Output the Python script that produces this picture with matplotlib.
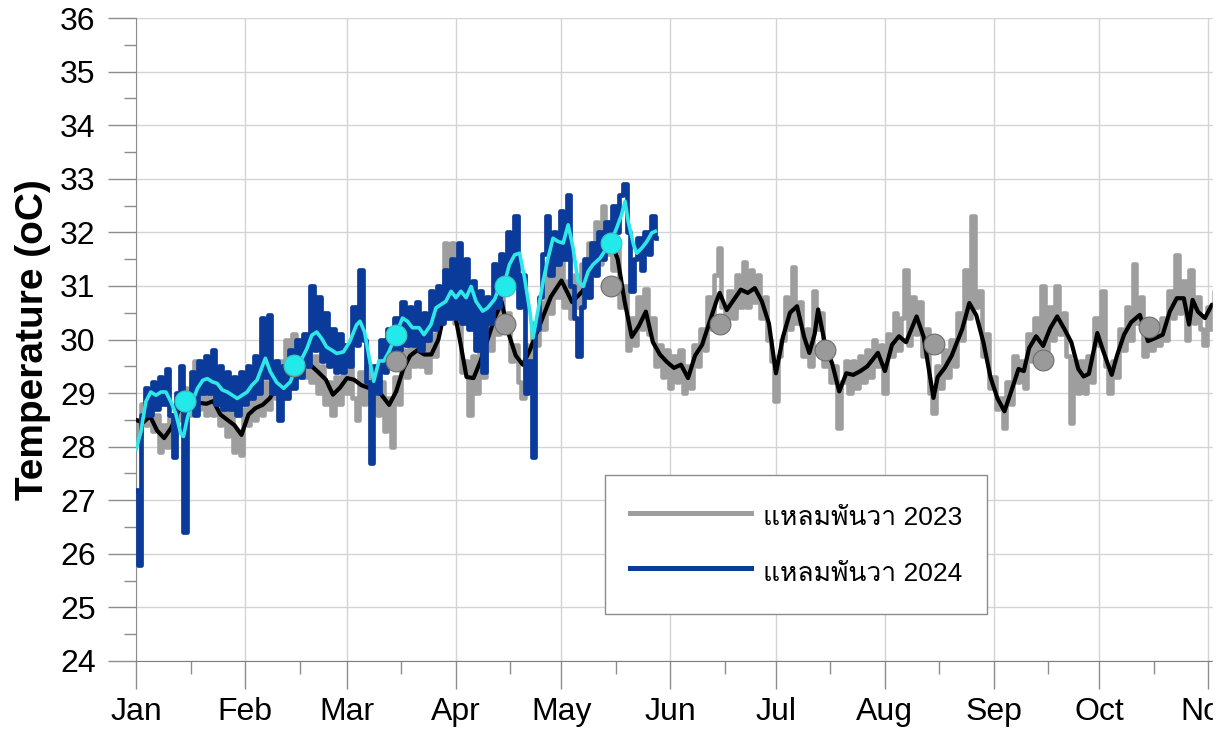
import numpy as np
import matplotlib
matplotlib.use('Agg')
import matplotlib.pyplot as plt
from matplotlib import font_manager
from matplotlib.ft2font import FT2Font
from matplotlib.patches import Rectangle

# day of year (leap-year calendar, 0 = Jan 1)
month_start = [0, 31, 60, 91, 121, 152, 182, 213, 244, 274, 305, 335]
month_names = ['Jan', 'Feb', 'Mar', 'Apr', 'May', 'Jun', 'Jul', 'Aug', 'Sep', 'Oct', 'Nov']

# 2023 raw (daily), d = 0..309
raw23 = [
    28.5, 28.2, 28.8, 28.4, 28.9, 28.3, 28.6, 27.9, 28.4, 28.0,
    28.6, 28.2, 28.9, 28.5, 29.1, 28.6, 29.2, 29.6, 28.7, 29.1,
    28.6, 29.1, 28.6, 29.0, 28.4, 28.8, 28.2, 28.7, 27.9, 28.3,
    27.85, 28.7, 28.4, 28.9, 28.5, 29.0, 28.6, 29.2, 28.7, 29.3,
    28.9, 29.6, 29.2, 30.0, 29.3, 30.1, 29.4, 29.9, 29.3, 29.8,
    29.2, 29.7, 29.0, 29.5, 28.8, 29.2, 28.6, 29.3, 28.8, 29.4,
    29.0, 29.6, 28.9, 28.5, 29.4, 28.8, 29.5, 28.9, 29.4, 28.6,
    29.2, 28.3, 28.9, 28.0, 29.3, 28.8, 29.8, 29.3, 30.0, 29.5,
    30.1, 29.5, 30.0, 29.4, 30.1, 29.7, 30.6, 30.4, 31.8, 31.0,
    31.8, 30.3, 30.5, 29.4, 29.6, 28.6, 29.7, 29.0, 30.0, 29.3,
    30.3, 29.8, 30.7, 30.1, 30.9, 30.3, 30.5, 29.6, 29.9, 29.2,
    28.9, 29.9, 29.4, 30.3, 29.9, 30.7, 30.2, 31.2, 30.5, 31.4,
    30.8, 31.5, 30.6, 31.1, 30.4, 31.2, 30.6, 31.4, 30.8, 31.8,
    31.2, 32.2, 31.4, 32.5, 31.6, 32.2, 31.3, 31.8, 30.6, 31.0,
    29.8, 30.4, 29.9, 30.8, 30.2, 30.95, 30.1, 30.4, 29.5, 29.9,
    29.3, 29.8, 29.1, 29.7, 29.2, 29.8, 29.0, 29.5, 29.1, 29.9,
    29.5, 30.2, 29.8, 30.8, 30.2, 31.2, 31.7, 30.6, 30.3, 30.9,
    30.4, 31.2, 30.6, 31.45, 30.6, 31.3, 30.7, 31.2, 30.4, 30.8,
    30.0, 29.6, 28.85, 29.7, 30.0, 30.8, 30.2, 31.36, 30.3, 30.7,
    29.7, 30.2, 29.5, 30.9, 30.2, 30.5, 29.5, 29.9, 29.2, 29.5,
    28.35, 29.2, 29.6, 29.0, 29.6, 29.1, 29.7, 29.2, 29.8, 29.3,
    30.0, 29.5, 29.9, 29.0, 30.1, 29.7, 30.5, 29.8, 30.4, 31.3,
    29.9, 30.8, 30.1, 30.7, 29.7, 30.2, 29.0, 28.63, 29.5, 29.1,
    29.8, 29.3, 30.0, 29.5, 30.5, 30.0, 31.3, 30.4, 32.3, 30.6,
    30.9, 29.7, 30.1, 29.1, 29.3, 28.7, 28.9, 28.35, 29.2, 28.8,
    29.7, 29.2, 29.6, 29.1, 30.1, 29.6, 30.4, 29.6, 31.0, 29.7,
    30.6, 30.0, 31.0, 30.1, 30.5, 29.7, 28.44, 29.6, 29.0, 29.6,
    29.0, 29.7, 29.2, 30.4, 29.9, 30.9, 29.5, 29.0, 29.6, 29.3,
    30.2, 29.8, 30.6, 30.0, 31.4, 30.3, 30.8, 29.7, 30.2, 29.8,
    30.3, 29.9, 30.4, 30.0, 30.9, 30.4, 31.58, 30.5, 31.1, 30.0,
    31.3, 30.3, 30.8, 30.2, 29.9, 30.6, 30.2, 30.9, 30.4, 30.7,
]

# 2023 smoothed
smooth23_day = [0, 2, 4, 6, 8, 10, 12, 14, 16, 18, 20, 22, 24, 26, 28, 30, 32, 34, 36, 38,
                40, 42, 44, 46, 48, 50, 52, 54, 56, 58, 60, 62, 64, 66, 68, 70, 72, 74, 76, 78,
                80, 82, 84, 86, 88, 89, 90, 92, 94, 96, 98, 100, 102, 104, 106, 108, 110, 112, 115, 118,
                121, 124, 127, 130, 133, 135, 137, 139, 141, 143, 145, 147, 149, 151, 153, 155, 157, 159, 161, 163,
                165, 166, 168, 170, 172, 174, 176, 178, 180, 182, 184, 186, 188, 190, 191.5, 193, 194, 196, 198, 200,
                202, 204, 206, 208, 211, 213, 215, 217, 219, 222, 224, 226.8, 228, 230, 232, 235, 237, 239, 241, 243,
                245, 247, 249, 251, 252.5, 254, 256, 258, 260, 262, 264, 266, 268, 269.5, 271, 273.4, 275, 277.5, 279, 281,
                283, 285.5, 287.8, 290, 292, 294, 296, 298, 299.5, 300.5, 302, 304, 306, 308, 310]
smooth23_val = [28.5, 28.45, 28.57, 28.3, 28.16, 28.35, 28.66, 28.8, 28.85, 28.82, 28.8, 28.85, 28.6, 28.5, 28.4, 28.22, 28.6, 28.72, 28.78, 28.9,
                29.1, 29.5, 29.55, 29.55, 29.6, 29.5, 29.38, 29.25, 28.97, 29.1, 29.28, 29.25, 29.15, 29.1, 29.15, 28.95, 28.78, 29.03, 29.45, 29.7,
                29.8, 29.72, 29.72, 30.0, 30.6, 31.1, 30.7, 30.03, 29.3, 29.28, 29.6, 30.0, 30.4, 30.7, 30.1, 29.7, 29.53, 29.8, 30.3, 30.8,
                31.1, 30.7, 30.9, 31.3, 31.6, 31.85, 31.5, 30.7, 30.05, 30.25, 30.52, 29.95, 29.72, 29.58, 29.47, 29.53, 29.28, 29.7, 29.9, 30.3,
                30.7, 30.87, 30.55, 30.74, 30.93, 30.87, 30.96, 30.71, 30.3, 29.37, 30.05, 30.5, 30.62, 30.05, 29.75, 30.1, 30.56, 29.9, 29.55, 29.03,
                29.37, 29.34, 29.41, 29.5, 29.75, 29.41, 29.9, 30.06, 29.95, 30.43, 30.05, 28.91, 29.3, 29.47, 29.7, 30.2, 30.68, 30.45, 29.95, 29.3,
                28.9, 28.66, 29.05, 29.45, 29.41, 29.84, 30.06, 29.88, 30.21, 30.43, 30.2, 29.95, 29.45, 29.31, 29.36, 30.12, 29.8, 29.34, 29.7, 30.09,
                30.32, 30.46, 29.97, 30.03, 30.09, 30.52, 30.77, 30.77, 30.28, 30.74, 30.52, 30.4, 30.65, 30.6, 30.5]

# 2024 raw (daily), d = 0..148
raw24 = [
    27.2, 25.8, 28.6, 29.1, 28.6, 29.2, 28.7, 29.3, 28.8, 29.45,
    28.6, 27.8, 29.0, 29.5, 26.4, 28.8, 29.4, 28.6, 29.6, 29.0,
    29.7, 29.0, 29.8, 28.8, 29.5, 28.7, 29.4, 28.7, 29.3, 28.6,
    29.4, 28.8, 29.5, 28.9, 29.7, 29.0, 30.4, 29.3, 30.45, 29.0,
    29.6, 28.5, 29.5, 28.9, 29.8, 29.1, 30.0, 29.3, 30.1, 29.5,
    31.0, 29.8, 30.8, 29.6, 30.5, 29.5, 30.2, 29.4, 30.1, 29.4,
    29.9, 29.5, 30.6, 29.9, 31.3, 30.0, 29.2, 27.7, 29.5, 29.0,
    30.0, 29.4, 30.2, 29.6, 30.4, 29.8, 30.7, 29.9, 30.6, 29.9,
    30.7, 29.8, 30.5, 30.0, 30.9, 30.2, 31.0, 30.3, 31.3, 30.4,
    31.5, 30.4, 31.8, 30.3, 31.5, 30.2, 31.1, 29.8, 30.9, 29.4,
    30.8, 30.3, 31.4, 30.6, 31.6, 30.9, 32.0, 31.0, 32.3, 30.6,
    31.2, 29.0, 29.6, 27.8, 30.2, 30.8, 31.6, 32.3, 31.2, 32.0,
    31.4, 32.4, 31.5, 32.7, 31.0, 30.4, 29.7, 30.6, 31.5, 30.8,
    31.8, 31.2, 32.0, 31.5, 32.2, 31.7, 32.5, 32.0, 32.7, 32.9,
    32.0, 30.9, 31.5, 31.9, 31.3, 32.0, 31.6, 32.3, 31.9,
]

# 2024 smoothed
smooth24_day = [0, 1.4, 2.8, 4.2, 5.7, 7.1, 8.5, 9.9, 11.3, 12.7, 13.5, 14.6, 16, 17.5, 19, 20.3, 21.7, 23.1, 24.5, 26,
                27.4, 28.8, 30.2, 31.6, 33, 34.4, 36.8, 38.2, 40, 42, 43.9, 45.3, 46.7, 48.6, 50, 51.4, 52.8, 54.2, 55.7, 57.1,
                59, 60.8, 62.7, 63.7, 65, 66.5, 67.6, 69.1, 70.5, 72, 73.9, 75.8, 77.2, 78.6, 80.5, 81.9, 83.9, 85.3, 86.7, 88.1,
                89.6, 91, 92.4, 93.9, 95.3, 96.7, 98.6, 100, 102, 103.4, 105, 106.2, 107.7, 109.1, 110.5, 112, 112.9, 114.3, 115.8, 117.2,
                118.6, 120, 121.5, 122.9, 124.3, 125.7, 127.2, 128.6, 130, 132, 133.9, 135.3, 136.7, 138.1, 139.1, 140, 141.5, 142.4, 143.9, 145.3,
                146.7, 147.7]
smooth24_val = [27.95, 28.28, 28.84, 29.02, 28.96, 29.02, 29.02, 28.84, 28.62, 28.25, 28.19, 28.53, 28.84, 29.09, 29.24, 29.27, 29.21, 29.18, 29.06, 29.02,
                28.96, 28.9, 28.96, 29.02, 29.15, 29.24, 29.65, 29.4, 29.2, 29.09, 29.21, 29.46, 29.58, 29.83, 30.08, 30.14, 30.02, 29.86, 29.8, 29.74,
                29.77, 29.96, 30.27, 30.34, 30.14, 29.6, 29.22, 29.6, 29.6, 29.78, 30.09, 30.4, 30.34, 30.22, 30.22, 30.09, 30.28, 30.59, 30.65, 30.71,
                30.9, 30.78, 30.9, 30.78, 30.99, 30.71, 30.53, 30.59, 30.75, 30.99, 31.1, 31.4, 31.58, 31.61, 31.15, 30.53, 30.03, 30.53, 31.09, 31.52,
                31.89, 31.83, 31.8, 32.14, 31.71, 31.09, 30.99, 31.27, 31.4, 31.52, 31.71, 31.86, 32.08, 32.33, 32.58, 32.2, 31.77, 31.61, 31.71, 31.83,
                31.99, 32.02]

# monthly means (plotted on the 15th)
monthly23 = [28.85, 29.5, 29.6, 30.28, 30.99, 30.28, 29.8, 29.92, 29.62, 30.23]
monthly24 = [28.86, 29.52, 30.08, 31.0, 31.8]

label23 = 'แหลมพันวา 2023'
label24 = 'แหลมพันวา 2024'


def find_thai_font():
    for f in font_manager.fontManager.ttflist:
        try:
            if FT2Font(f.fname).get_char_index(0x0E41):
                return f.name
        except Exception:
            pass
    return 'DejaVu Sans'


thai_font = find_thai_font()
plt.rcParams['font.family'] = ['Liberation Sans', thai_font, 'DejaVu Sans']

grid_col = '#d4d4d4'
tick_col = '#8c8c8c'

fig = plt.figure(figsize=(12.29, 7.43), dpi=100, facecolor='white')
ax = fig.add_axes([136 / 1229, 82 / 743, 1090 / 1229, 643 / 743])

ax.plot(np.arange(len(raw23)), raw23, color='#9e9e9e', lw=3.3, drawstyle='steps-mid', zorder=2, label=label23)
ax.plot(smooth23_day, smooth23_val, color='black', lw=3.0, zorder=3)
ax.plot(np.arange(len(raw24)), raw24, color='#0a3a9a', lw=3.4, drawstyle='steps-mid', zorder=4, label=label24)
ax.plot(smooth24_day, smooth24_val, color='#2ee8e8', lw=2.6, zorder=5)

mid23 = [month_start[i] + 14 for i in range(len(monthly23))]
mid24 = [month_start[i] + 14 for i in range(len(monthly24))]
ax.plot(mid23, monthly23, 'o', ms=15, mfc='#9a9a9a', mec='#6e6e6e', mew=0.8, zorder=6)
ax.plot(mid24, monthly24, 'o', ms=15, mfc='#22eaea', mec='#3fbfbf', mew=0.8, zorder=7)

ax.set_xticks(month_start[:11])
ax.set_xticklabels(month_names)
ax.set_xticks([m + 15.5 for m in month_start[:10]], minor=True)
ax.set_yticks(range(24, 37))
ax.set_yticks(np.arange(24.5, 36, 1.0), minor=True)
# limits after the ticks, so the ticks do not widen the view
ax.set_xlim(0, 310)
ax.set_ylim(24, 36)

ax.grid(True, which='major', color=grid_col, lw=1.0)
ax.set_axisbelow(True)
for s in ['top', 'right']:
    ax.spines[s].set_visible(False)
ax.spines['left'].set_color(tick_col)
ax.spines['bottom'].set_color('#808080')
ax.tick_params(which='major', direction='out', length=20, width=1, color=tick_col, labelsize=23, pad=9)
ax.tick_params(which='minor', direction='out', length=9, width=1, color=tick_col)
ax.tick_params(axis='x', which='major', pad=6)

ax.set_ylabel('Temperature (oC)', fontsize=28, fontweight='bold')
ax.yaxis.set_label_coords(-0.078, 0.5)

leg = ax.legend(loc='lower left', bbox_to_anchor=(0.4303, 0.0731), borderaxespad=0, fontsize=19,
                handlelength=4.6, handleheight=1.6, handletextpad=0.45, labelspacing=0.83, borderpad=0.93,
                fancybox=False, framealpha=1, edgecolor='#8c8c8c')
leg.get_frame().set_linewidth(1.0)
for line in leg.get_lines():
    line.set_linewidth(3.6)

# the source picture is cut off at the right edge (the Nov label is clipped there too)
fig.add_artist(Rectangle((1213 / 1229, 0), 1, 1, transform=fig.transFigure, color='white', zorder=10))

fig.savefig('out.png', dpi=100, facecolor='white')
